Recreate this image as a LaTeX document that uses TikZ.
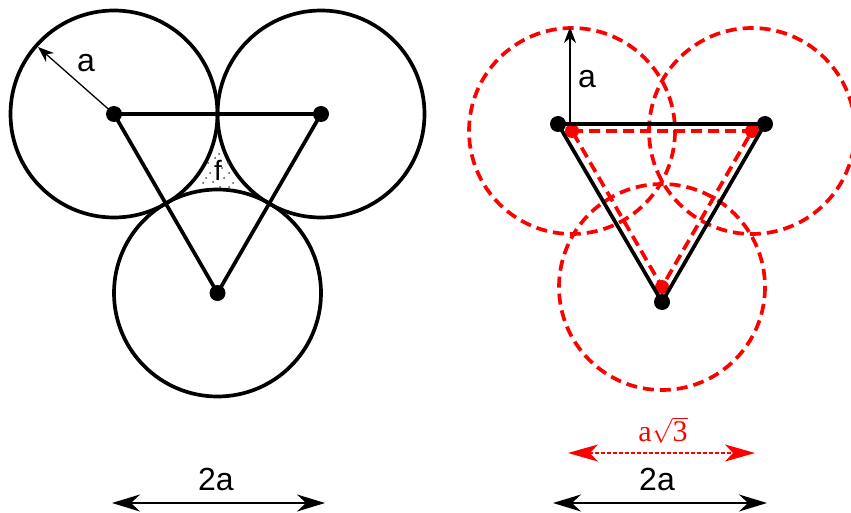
\documentclass[tikz,border=0pt]{standalone}
\usepackage{fontspec}
\setmainfont{Liberation Sans}
\newfontfamily\seriffont{Liberation Serif}
\usetikzlibrary{arrows.meta}
\begin{document}
\begin{tikzpicture}[x=1pt,y=-1pt,
  circ/.style={line width=3.7pt},
  rcirc/.style={line width=3.7pt, red, dash pattern=on 11pt off 6pt},
  tri/.style={line width=3.7pt, line join=round},
  rtri/.style={line width=3.7pt, red, dash pattern=on 11pt off 6pt},
  dotb/.style={circle, fill=black, inner sep=0pt, minimum size=16pt},
  dotr/.style={circle, fill=red, inner sep=0pt, minimum size=14pt},
  lbl/.style={font=\fontsize{32}{36}\selectfont, inner sep=0pt},
  radarrow/.style={line width=1.3pt, -{Stealth[length=16pt,width=12pt,inset=5pt]}},
  dimarrow/.style={line width=2.3pt, {Stealth[length=28pt,width=17pt,inset=9pt]}-{Stealth[length=28pt,width=17pt,inset=9pt]}},
  rdimarrow/.style={line width=1.3pt, red, dash pattern=on 4pt off 2pt, {Stealth[length=30pt,width=17pt,inset=8pt]}-{Stealth[length=30pt,width=17pt,inset=8pt]}},
  stip/.style={fill=black!70}
]
\useasboundingbox (0,0) rectangle (851,513);

% ---------------- left figure ----------------
\coordinate (A) at (114,114);
\coordinate (B) at (321,114);
\coordinate (C) at (217.5,293);
\coordinate (Atip) at (38,47);

\draw[circ] (A) circle[radius=103.5];
\draw[circ] (B) circle[radius=103.5];
\draw[circ] (C) circle[radius=103.5];

% stippled region
\foreach \p in {(219,154),(208,163),(228,163),(210,173),(229,173),(203,183),(213,182),(233,183),(224,178),(220,187),(229,187),(215,158),(222,168),(206,178)}
  \fill[stip] \p circle[radius=1pt];

\draw[tri] (A) -- (B) -- (C) -- cycle;
\node[dotb] (dA) at (A) {};
\node[dotb] (dB) at (B) {};
\node[dotb] (dC) at (C) {};

\draw[radarrow] (A) -- (Atip);
\node[lbl] (la) at (86,63) {a};
\node[font=\fontsize{28}{30}\selectfont, inner sep=0pt] (lf) at (218,170) {f};

\coordinate (L1) at (112,503);
\coordinate (L2) at (325,503);
\draw[dimarrow] (L1) -- (L2);
\node[lbl] (l2a) at (216,479) {2a};

% ---------------- right figure ----------------
\coordinate (D) at (558,124);
\coordinate (E) at (765,124);
\coordinate (F) at (662,302);
\coordinate (P) at (572,131);
\coordinate (Q) at (752,131);
\coordinate (R) at (662,287);
\coordinate (Dtip) at (570,27);

\draw[rcirc] (P) circle[radius=103];
\draw[rcirc] (Q) circle[radius=103];
\draw[rcirc] (R) circle[radius=103];

\node[dotr] (dP) at (P) {};
\node[dotr] (dQ) at (Q) {};
\node[dotr] (dR) at (R) {};
\draw[rtri] (P) -- (Q) -- (R) -- cycle;

\draw[tri] (D) -- (E) -- (F) -- cycle;
\node[dotb] (dD) at (D) {};
\node[dotb] (dE) at (E) {};
\node[dotb] (dF) at (F) {};

\coordinate (Dbase) at (570,124);
\draw[radarrow] (Dbase) -- (Dtip);
\node[lbl] (ra) at (587,79) {a};

\coordinate (S1) at (568,453);
\coordinate (S2) at (755,453);
\draw[rdimarrow] (S1) -- (S2);
\node[text=red, font=\fontsize{30}{32}\selectfont, inner sep=0pt] (ra3) at (663,430) {\seriffont a$\sqrt{\mbox{\seriffont 3}}$};

\coordinate (R1) at (553,503);
\coordinate (R2) at (767,503);
\draw[dimarrow] (R1) -- (R2);
\node[lbl] (r2a) at (657,479) {2a};
\end{tikzpicture}
\end{document}
